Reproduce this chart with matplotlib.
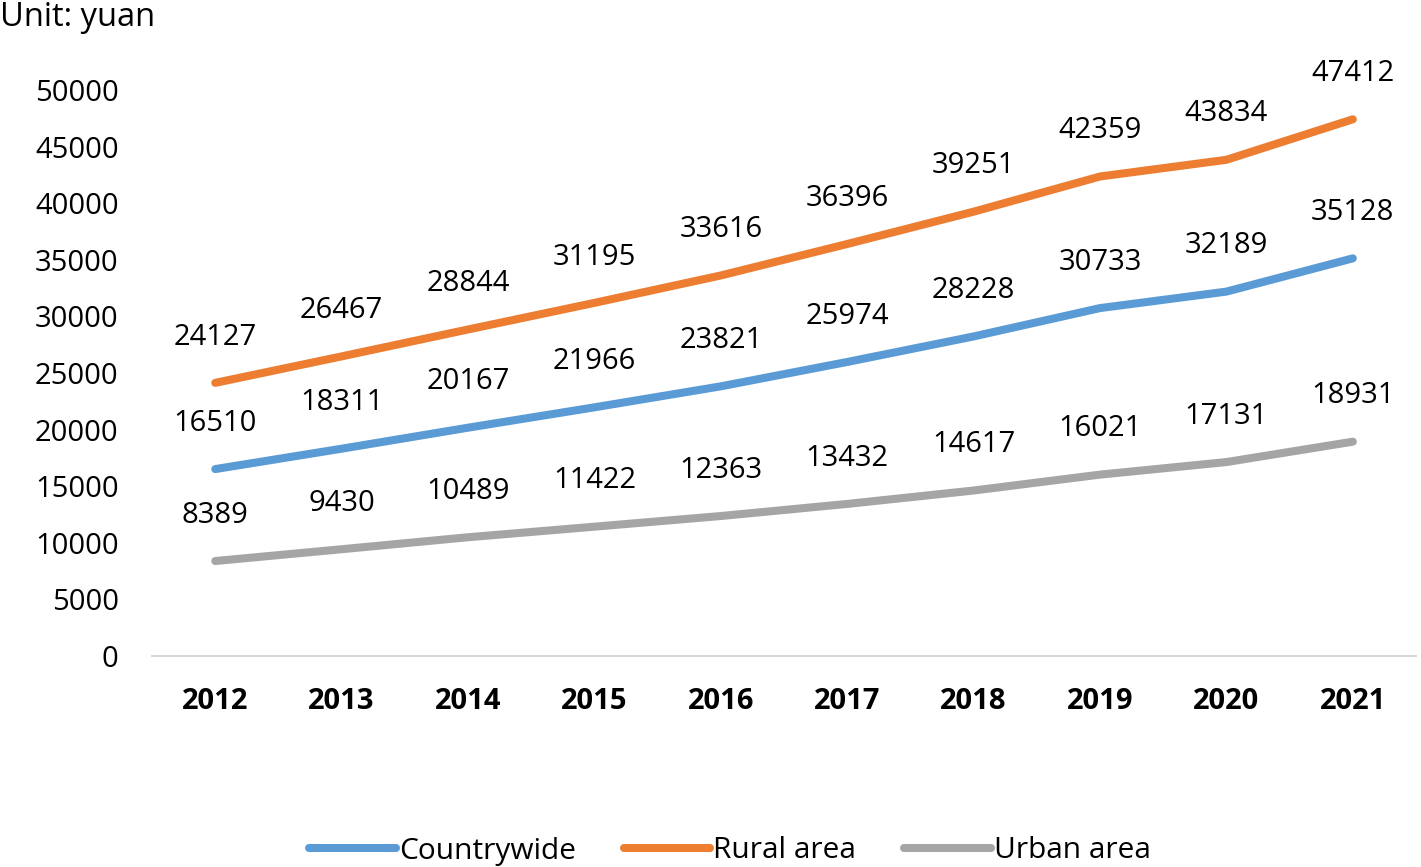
import matplotlib
matplotlib.use("Agg")
import matplotlib.pyplot as plt

# -------------------------------------------
# Data
# -------------------------------------------
years = ["2012", "2013", "2014", "2015", "2016", "2017", "2018", "2019", "2020", "2021"]
countrywide = [16510, 18311, 20167, 21966, 23821, 25974, 28228, 30733, 32189, 35128]
rural = [24127, 26467, 28844, 31195, 33616, 36396, 39251, 42359, 43834, 47412]
urban = [8389, 9430, 10489, 11422, 12363, 13432, 14617, 16021, 17131, 18931]
y_ticks = [0, 5000, 10000, 15000, 20000, 25000, 30000, 35000, 40000, 45000, 50000]

series = [
    ("Countrywide", countrywide, "#5B9BD5"),
    ("Rural area", rural, "#ED7D31"),
    ("Urban area", urban, "#A5A5A5"),
]

plt.rcParams['font.family'] = ['Open Sans', 'DejaVu Sans']

fig = plt.figure(figsize=(14.21, 8.67), dpi=100)
ax = fig.add_axes([0.107, 0.2434, 0.8895, 0.6528])

x = list(range(len(years)))
handles = []
for name, vals, col in series:
    h, = ax.plot(x, vals, color=col, lw=5.8, solid_capstyle='round', label=name)
    handles.append(h)
    for xi, v in zip(x, vals):
        ax.annotate(str(v), (xi, v), xytext=(0, 33), textcoords='offset points',
                    ha='center', va='center', fontsize=21, color='black',
                    annotation_clip=False)

ax.set_xlim(-0.5, len(years) - 0.5)
ax.set_ylim(0, 50000)
ax.set_yticks(y_ticks)
ax.set_yticklabels([str(t) for t in y_ticks], fontsize=21)
ax.set_xticks(x)
ax.set_xticklabels(years, fontsize=21, fontweight='bold')
ax.tick_params(axis='both', length=0)
ax.tick_params(axis='y', pad=24)
ax.tick_params(axis='x', pad=22)
for s in ['top', 'right', 'left']:
    ax.spines[s].set_visible(False)
ax.spines['bottom'].set_color('#D9D9D9')
ax.spines['bottom'].set_linewidth(1.5)

fig.text(0.0, 1 - 18 / 867, "Unit: yuan", fontsize=23.5, ha='left', va='center')

fig.legend(handles=handles, loc='center', bbox_to_anchor=(730 / 1421, 1 - 851 / 867),
           ncol=3, frameon=False, fontsize=21.5, handlelength=2.9, handletextpad=0.1,
           columnspacing=1.6)

fig.savefig("out.png", dpi=100)
